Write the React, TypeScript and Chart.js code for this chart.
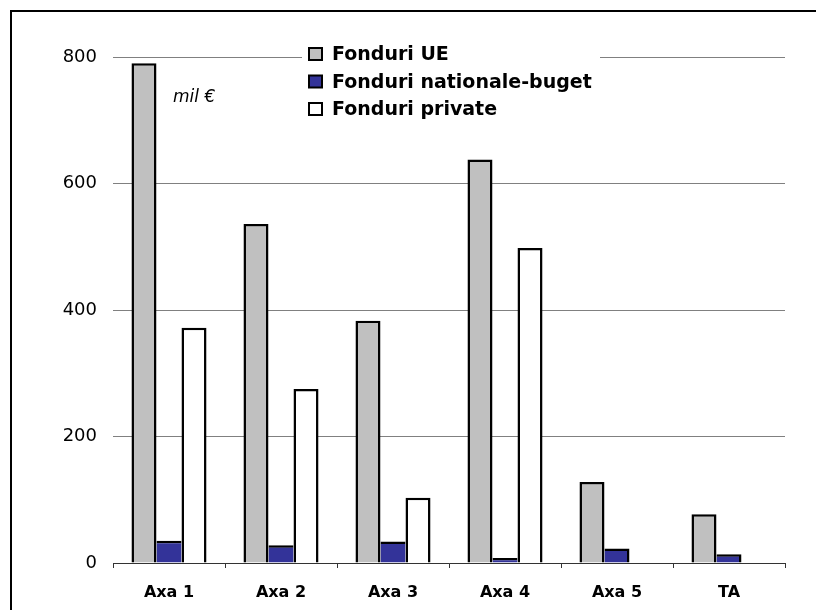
import React, { useEffect, useRef } from "react";
import { Chart, registerables } from "chart.js";

Chart.register(...registerables);

const categories = ["Axa 1", "Axa 2", "Axa 3", "Axa 4", "Axa 5", "TA"];
const fonduriUE = [790, 536, 383, 638, 128, 77];
const fonduriNationale = [35, 28, 34, 8, 23, 14];
const fonduriPrivate: (number | null)[] = [372, 275, 103, 498, null, null];
const yTicks = [0, 200, 400, 600, 800];

const seriesNames = ["Fonduri UE", "Fonduri nationale-buget", "Fonduri private"];
const seriesColors = ["#C0C0C0", "#333399", "#FFFFFF"];
const unitLabel = "mil €";
const BW = 2.5;

const overlayPlugin = {
  id: "overlay",
  afterDraw(chart: any) {
    const ctx = chart.ctx as CanvasRenderingContext2D;
    ctx.save();
    // legend background (covers the gridline)
    ctx.fillStyle = "#FFFFFF";
    ctx.fillRect(302, 40, 298, 82);
    ctx.font = "bold 19px 'DejaVu Sans'";
    ctx.textBaseline = "alphabetic";
    seriesNames.forEach((name, i) => {
      const base = 60 + i * 27.5;
      ctx.fillStyle = seriesColors[i];
      ctx.fillRect(309, base - 12, 13, 12);
      ctx.strokeStyle = "#000";
      ctx.lineWidth = 2;
      ctx.strokeRect(309, base - 12, 13, 12);
      ctx.fillStyle = "#000";
      ctx.fillText(name, 332, base);
    });
    // unit label
    ctx.font = "oblique 17px 'DejaVu Sans'";
    ctx.fillText(unitLabel, 173, 102);
    // frame
    ctx.fillStyle = "#000";
    ctx.fillRect(10, 10, 806, 2);
    ctx.fillRect(10, 10, 2, 600);
    ctx.restore();
  },
};

export default function App() {
  const ref = useRef<HTMLCanvasElement>(null);
  useEffect(() => {
    if (!ref.current) return;
    const chart = new Chart(ref.current, {
      type: "bar",
      data: {
        labels: categories,
        datasets: [
          {
            label: seriesNames[0],
            data: fonduriUE,
            backgroundColor: seriesColors[0],
            borderColor: "#000",
            borderWidth: { top: BW, left: BW, right: BW, bottom: 0 },
          },
          {
            label: seriesNames[1],
            data: fonduriNationale,
            backgroundColor: seriesColors[1],
            borderColor: "#000",
            borderWidth: (c: any) => ({
              top: BW,
              left: 0,
              right: fonduriPrivate[c.dataIndex] == null ? BW : 0,
              bottom: 0,
            }),
          },
          {
            label: seriesNames[2],
            data: fonduriPrivate,
            backgroundColor: seriesColors[2],
            borderColor: "#000",
            borderWidth: { top: BW, left: BW, right: BW, bottom: 0 },
          },
        ] as any,
      },
      options: {
        animation: false,
        responsive: false,
        datasets: { bar: { barPercentage: 1, categoryPercentage: 0.67 } },
        layout: { padding: { top: 57, right: 31, bottom: 0, left: 0 } },
        plugins: { legend: { display: false }, tooltip: { enabled: false } },
        scales: {
          x: {
            afterFit: (s: any) => {
              s.height = 47;
            },
            grid: {
              drawOnChartArea: false,
              drawTicks: true,
              tickLength: 5,
              color: "#333",
              offset: true,
            },
            border: { display: true, color: "#333", width: 1 },
            ticks: {
              color: "#000",
              padding: 15,
              font: { family: "'DejaVu Sans'", size: 16, weight: "bold" },
            },
          },
          y: {
            min: 0,
            max: 800,
            afterFit: (s: any) => {
              s.width = 113;
            },
            afterBuildTicks: (s: any) => {
              s.ticks = yTicks.map((v) => ({ value: v }));
            },
            grid: { drawTicks: false, color: "#808080", lineWidth: 1 },
            border: { display: false },
            ticks: {
              color: "#000",
              padding: 16,
              font: { family: "'DejaVu Sans'", size: 18 },
            },
          },
        },
      },
      plugins: [overlayPlugin],
    });
    return () => chart.destroy();
  }, []);
  return (
    <div style={{ position: "fixed", left: 0, top: 0, width: 816, height: 610, background: "#fff" }}>
      <canvas ref={ref} width={816} height={610} style={{ width: 816, height: 610 }} />
    </div>
  );
}
